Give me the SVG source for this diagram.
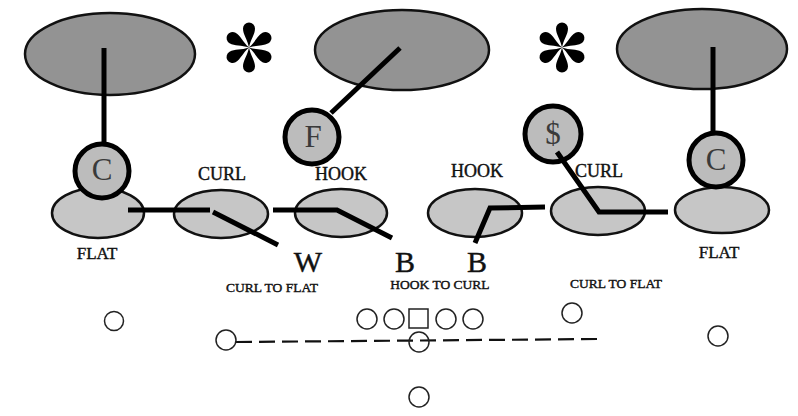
<svg xmlns="http://www.w3.org/2000/svg" width="798" height="416" viewBox="0 0 798 416">
<style>
.zone{fill:#939393;stroke:#111;stroke-width:2.5}
.area{fill:#c6c6c6;stroke:#111;stroke-width:2.5}
.def{fill:#bcbcbc;stroke:#000;stroke-width:5}
.route{fill:none;stroke:#000;stroke-width:5;stroke-linejoin:miter}
.off{fill:#fff;stroke:#222;stroke-width:1.5}
.lbl{font-family:"Liberation Serif",serif;fill:#111;stroke:#111;stroke-width:0.4;text-anchor:middle}
.sm{font-size:18px}
.xs{font-size:13.5px}
.big{font-size:30px}
.ltr{font-family:"Liberation Serif",serif;font-size:31px;fill:#3a3a3a;text-anchor:middle}
.dash{fill:none;stroke:#111;stroke-width:2.2;stroke-dasharray:16 7}
</style>
<defs>
<path id="petal" d="M0 0 C-1.5 -8 -6 -13 -6 -19 A6 6 0 0 1 6 -19 C6 -13 1.5 -8 0 0 Z" fill="#000"/>
<g id="star">
<use href="#petal"/>
<use href="#petal" transform="rotate(60)"/>
<use href="#petal" transform="rotate(120)"/>
<use href="#petal" transform="rotate(180)"/>
<use href="#petal" transform="rotate(240)"/>
<use href="#petal" transform="rotate(300)"/>
</g>
</defs>
<rect width="798" height="416" fill="#fff"/>

<g id="deep-zones">
<ellipse class="zone" cx="110" cy="54" rx="85" ry="41"/>
<ellipse class="zone" cx="402" cy="50" rx="87" ry="40"/>
<ellipse class="zone" cx="702" cy="49" rx="85" ry="40"/>
</g>
<g id="asterisks">
<use href="#star" x="249" y="47.5"/>
<use href="#star" x="562" y="47.5"/>
</g>
<g id="under-zones">
<ellipse class="area" cx="98" cy="213" rx="46" ry="25"/>
<ellipse class="area" cx="221" cy="214" rx="47" ry="24"/>
<ellipse class="area" cx="341" cy="213" rx="46" ry="24"/>
<ellipse class="area" cx="475" cy="213" rx="47" ry="24"/>
<ellipse class="area" cx="598" cy="211" rx="47" ry="24"/>
<ellipse class="area" cx="722" cy="210" rx="47" ry="23"/>
</g>

<g id="connectors">
<line class="route" x1="104" y1="48" x2="104" y2="143"/>
<line class="route" x1="713" y1="47" x2="713" y2="135"/>
<line class="route" x1="400" y1="48" x2="331" y2="113"/>
<line class="route" x1="128" y1="210" x2="210" y2="210"/>
<line class="route" x1="213" y1="212" x2="278" y2="245"/>
<polyline class="route" points="273,210 337,210 392,238"/>
<polyline class="route" points="475,243 490,208 545,207"/>
<line class="dash" x1="236" y1="342" x2="600" y2="339"/>
</g>

<g id="C-left">
<circle class="def" cx="102" cy="171" r="27"/>
<text class="ltr" x="102" y="180">C</text>
</g>
<g id="F">
<circle class="def" cx="312" cy="137" r="27"/>
<text class="ltr" x="313" y="147">F</text>
</g>
<g id="S">
<circle class="def" cx="553" cy="134" r="28"/>
<text class="ltr" x="553" y="144">$</text>
</g>
<g id="C-right">
<circle class="def" cx="716" cy="160" r="27"/>
<text class="ltr" x="716" y="170">C</text>
</g>
<g id="S-route">
<polyline class="route" points="557,152 599,212 668,212"/>
</g>

<g id="labels">
<text class="lbl sm" x="222" y="180">CURL</text>
<text class="lbl sm" x="341" y="180">HOOK</text>
<text class="lbl sm" x="477" y="177">HOOK</text>
<text class="lbl sm" x="599" y="177">CURL</text>
<text class="lbl sm" x="97" y="259" style="font-size:17px">FLAT</text>
<text class="lbl sm" x="719" y="258" style="font-size:17px">FLAT</text>
<text class="lbl xs" x="272" y="292">CURL TO FLAT</text>
<text class="lbl xs" x="440" y="289">HOOK  TO CURL</text>
<text class="lbl xs" x="616" y="288">CURL TO FLAT</text>
<text class="lbl big" x="308" y="272">W</text>
<text class="lbl big" x="405" y="272">B</text>
<text class="lbl big" x="477" y="272">B</text>
</g>

<g id="offense">
<circle class="off" cx="114" cy="321" r="9.5"/>
<circle class="off" cx="226" cy="340" r="10"/>
<circle class="off" cx="367" cy="319" r="10"/>
<circle class="off" cx="394" cy="319" r="10"/>
<rect class="off" x="409" y="309" width="19" height="19"/>
<circle class="off" cx="446" cy="319" r="10"/>
<circle class="off" cx="473" cy="319" r="10"/>
<circle class="off" cx="419" cy="342" r="10" style="fill:none"/>
<circle class="off" cx="572" cy="313" r="10"/>
<circle class="off" cx="718" cy="336" r="10"/>
<circle class="off" cx="419" cy="397" r="10"/>
</g>
</svg>
